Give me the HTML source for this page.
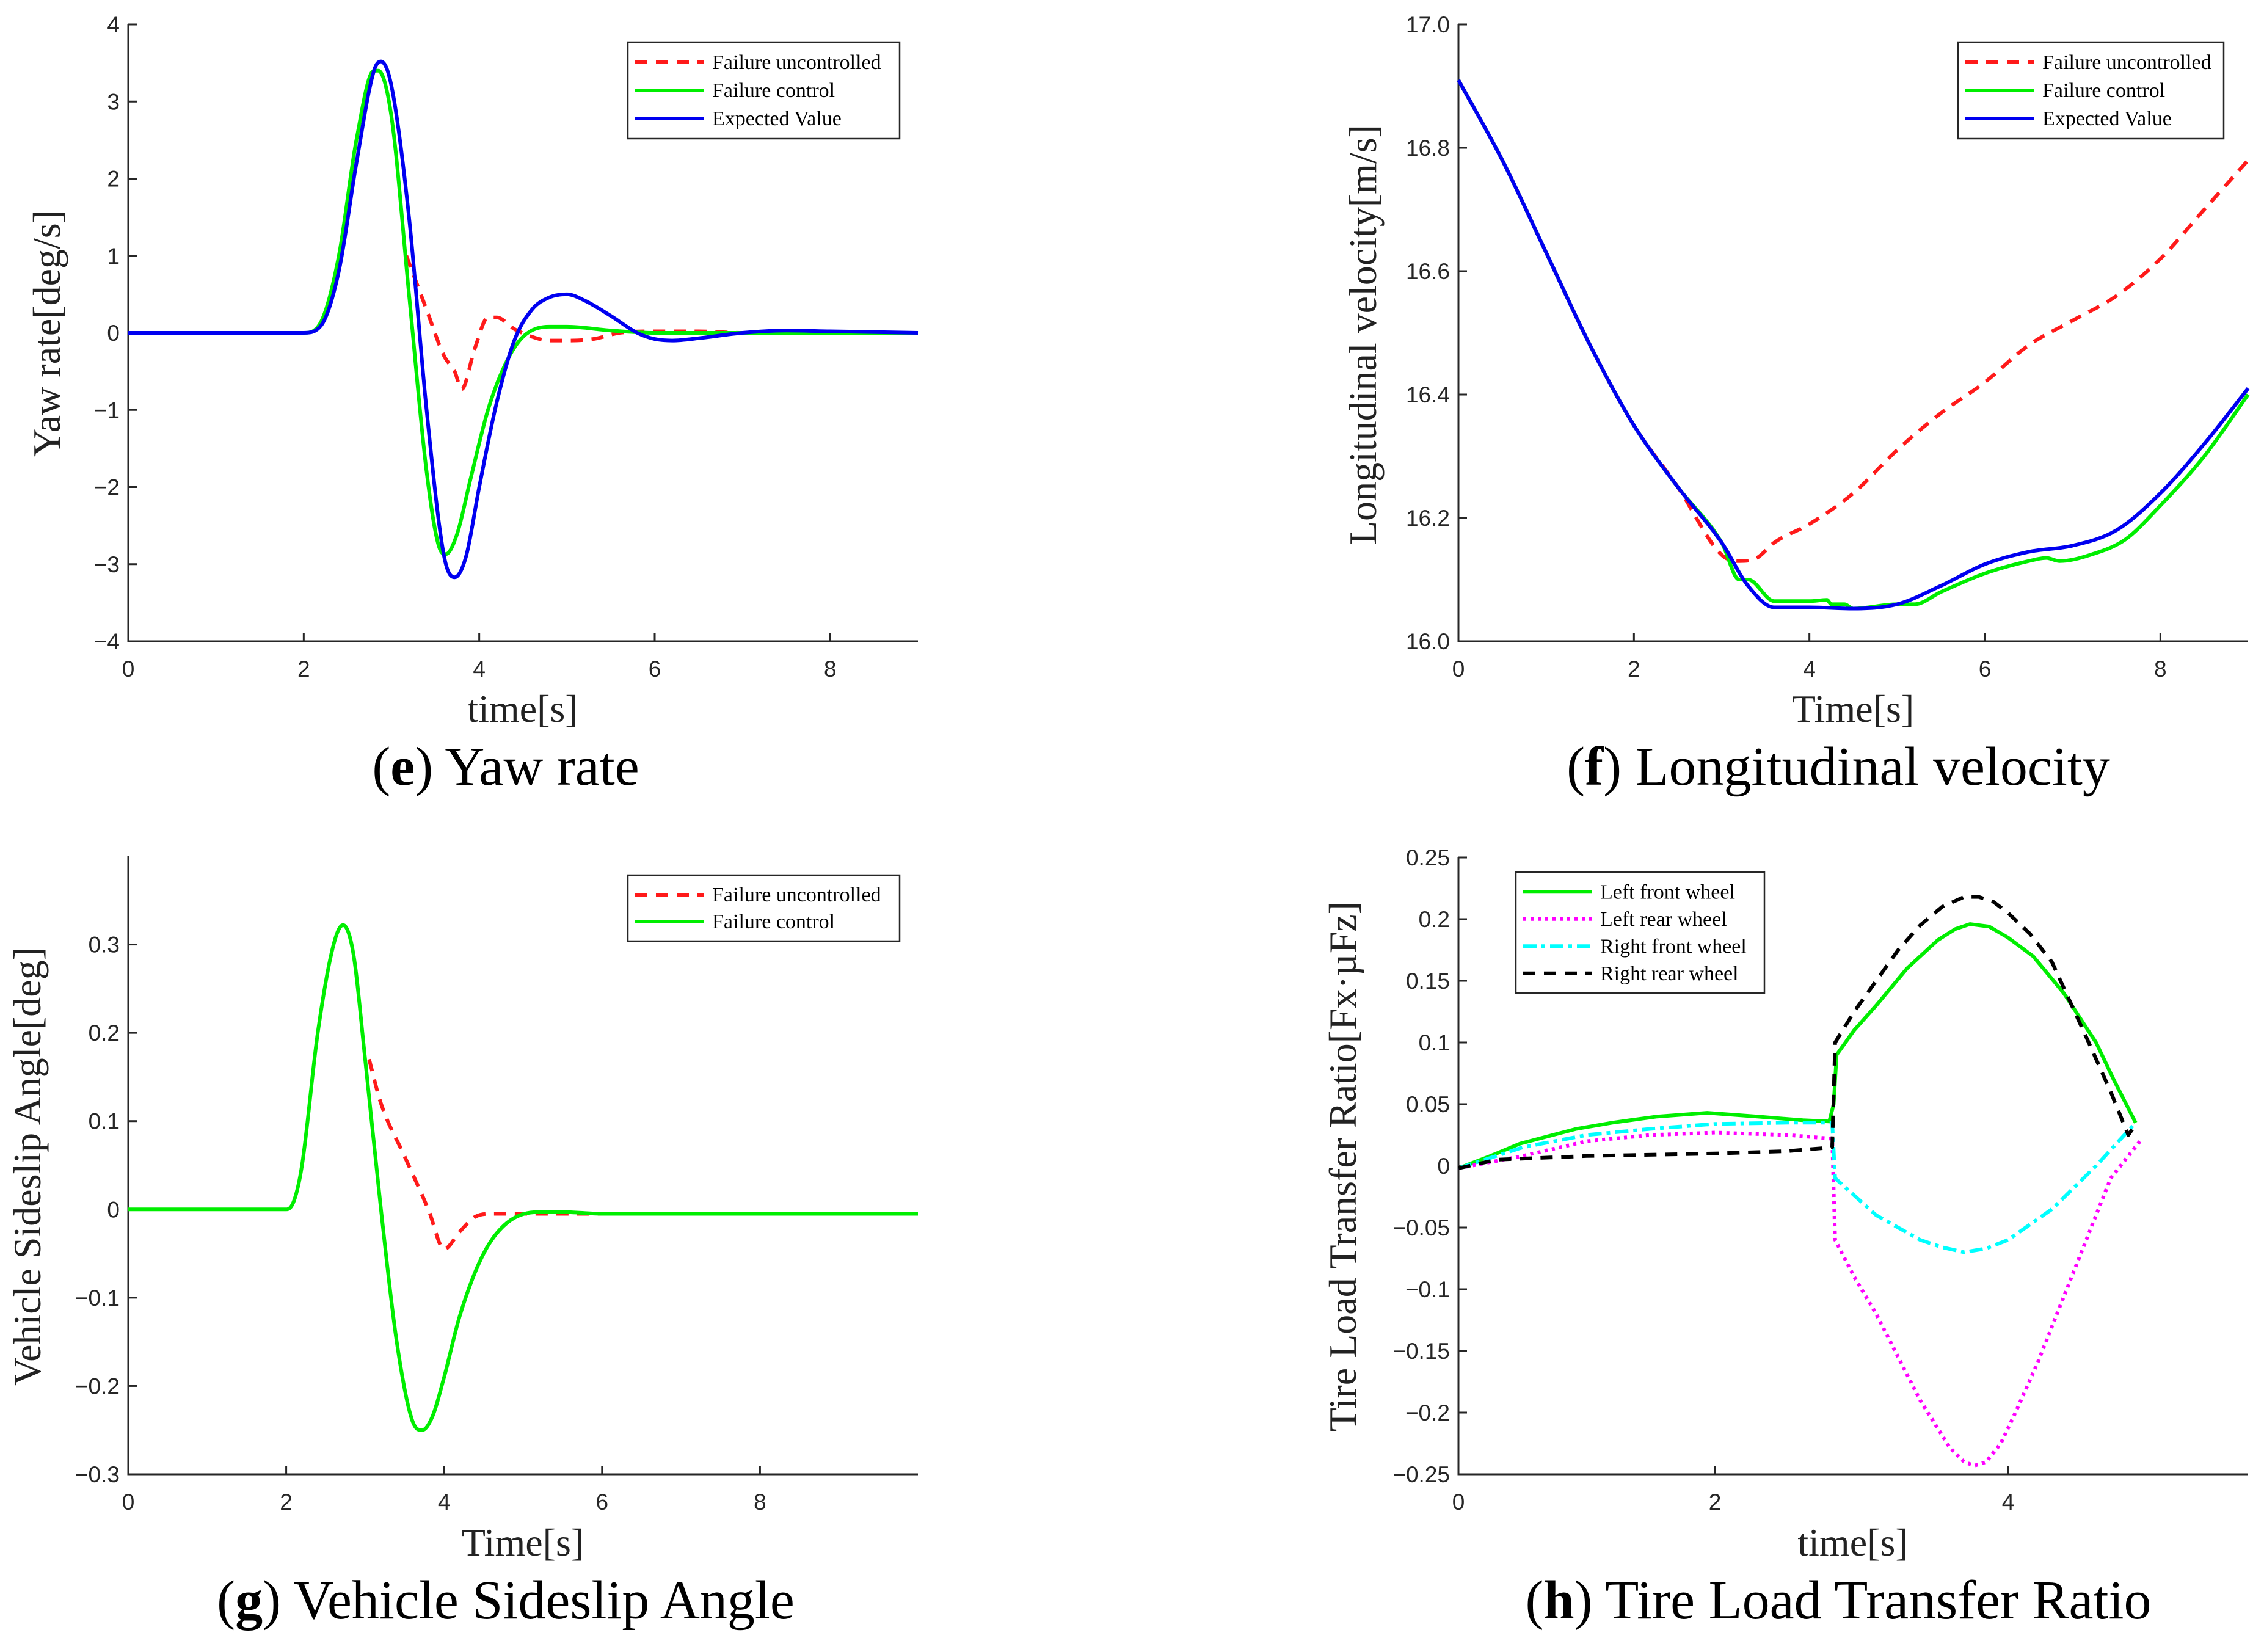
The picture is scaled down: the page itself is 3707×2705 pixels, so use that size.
<!DOCTYPE html>
<html><head><meta charset="utf-8">
<style>
html,body{margin:0;padding:0;background:#fff;}
svg{display:block;}
text{font-family:"Liberation Sans",sans-serif;}
.serif{font-family:"Liberation Serif",serif;}
</style></head>
<body>
<svg id="fig" width="3707" height="2705" viewBox="0 0 3707 2705" xmlns="http://www.w3.org/2000/svg"></svg>
<script>
// ---- chart e: yaw rate ----
const eBlueX=[0,2.0,2.2,2.4,2.6,2.8,2.88,3.0,3.2,3.4,3.6,3.72,3.85,4.0,4.2,4.4,4.6,4.8,5.0,5.2,5.5,5.8,6.0,6.2,6.5,7.0,7.5,8,9];
const eBlueY=[0,0,0.1,0.8,2.2,3.4,3.52,3.2,1.5,-1.0,-2.9,-3.17,-2.9,-2.0,-0.9,-0.1,0.3,0.46,0.5,0.42,0.22,0.0,-0.08,-0.1,-0.07,0.0,0.03,0.02,0];
const eGreenX=[0,2.0,2.2,2.4,2.6,2.8,2.85,3.0,3.2,3.4,3.55,3.62,3.75,3.9,4.1,4.3,4.5,4.8,5.0,5.5,6.0,9];
const eGreenY=[0,0,0.15,1.0,2.5,3.4,3.4,2.8,0.5,-1.8,-2.8,-2.87,-2.6,-1.9,-1.0,-0.4,-0.05,0.08,0.08,0.03,0.0,0];
const eRedX=[3.17,3.4,3.6,3.72,3.8,3.95,4.1,4.2,4.4,4.6,4.8,5.0,5.3,5.6,6,6.5,7,9];
const eRedY=[1.0,0.3,-0.3,-0.5,-0.73,-0.2,0.2,0.2,0.05,-0.05,-0.1,-0.1,-0.08,0.0,0.02,0.02,0.0,0];
const eXTicks=[0,2,4,6,8];
const eYTicks=[-4,-3,-2,-1,0,1,2,3,4];
const eYTickLabels=["\u22124","\u22123","\u22122","\u22121","0","1","2","3","4"];
// ---- chart f: longitudinal velocity ----
const fBlueX=[0,0.5,1,1.5,2,2.5,3,3.3,3.6,4,4.5,5,5.5,6,6.5,7,7.5,8,8.5,9];
const fBlueY=[16.91,16.78,16.63,16.48,16.35,16.25,16.16,16.09,16.055,16.055,16.053,16.06,16.09,16.125,16.145,16.155,16.18,16.24,16.32,16.41];
const fGreenX=[0,0.5,1,1.5,2,2.5,3,3.2,3.3,3.6,4.0,4.2,4.25,4.4,4.5,5,5.2,5.5,6,6.5,6.7,6.85,7.2,7.6,8,8.5,9];
const fGreenY=[16.91,16.78,16.63,16.48,16.35,16.25,16.16,16.10,16.10,16.065,16.065,16.067,16.06,16.06,16.053,16.06,16.06,16.08,16.11,16.13,16.135,16.13,16.14,16.165,16.22,16.3,16.40];
const fRedX=[0,0.5,1,1.5,2,2.5,3,3.2,3.4,3.6,4,4.5,5,5.5,6,6.5,7,7.5,8,8.5,9];
const fRedY=[16.91,16.78,16.63,16.48,16.35,16.25,16.14,16.13,16.135,16.16,16.19,16.24,16.31,16.37,16.42,16.48,16.52,16.56,16.62,16.70,16.78];
const fXTicks=[0,2,4,6,8];
const fYTicks=[16.0,16.2,16.4,16.6,16.8,17.0];
const fYTickLabels=["16.0","16.2","16.4","16.6","16.8","17.0"];
// ---- chart g: sideslip ----
const gGreenX=[0,2.0,2.1,2.2,2.4,2.6,2.72,2.85,3.0,3.2,3.4,3.6,3.72,3.85,4.0,4.2,4.5,4.8,5.2,5.5,6,10];
const gGreenY=[0,0,0.01,0.05,0.2,0.3,0.322,0.29,0.17,0.0,-0.15,-0.24,-0.25,-0.235,-0.19,-0.12,-0.05,-0.015,-0.003,-0.003,-0.005,-0.005];
const gRedX=[3.05,3.2,3.5,3.8,4.0,4.2,4.4,4.6,5,6,6.6];
const gRedY=[0.17,0.12,0.06,0.0,-0.045,-0.025,-0.008,-0.005,-0.005,-0.005,-0.005];
const gXTicks=[0,2,4,6,8];
const gYTicks=[-0.3,-0.2,-0.1,0,0.1,0.2,0.3];
const gYTickLabels=["\u22120.3","\u22120.2","\u22120.1","0","0.1","0.2","0.3"];
// ---- chart h: tire load transfer ----
const hLFX=[0,0.25,0.48,0.7,0.92,1.2,1.55,1.94,2.29,2.6,2.78,2.81,2.83,2.95,3.10,3.31,3.52,3.64,3.74,3.87,4.0,4.17,4.38,4.60,4.72,4.87];
const hLFY=[-0.002,0.008,0.018,0.024,0.03,0.035,0.04,0.043,0.04,0.037,0.036,0.05,0.09,0.11,0.13,0.16,0.183,0.192,0.196,0.194,0.185,0.17,0.14,0.1,0.07,0.035];
const hLRX=[0,0.5,1.0,1.5,2.0,2.5,2.8,2.82,2.95,3.1,3.25,3.4,3.6,3.7,3.77,3.85,3.95,4.05,4.2,4.35,4.5,4.7,4.9];
const hLRY=[-0.002,0.008,0.02,0.025,0.027,0.025,0.022,-0.06,-0.09,-0.12,-0.155,-0.19,-0.228,-0.24,-0.243,-0.24,-0.225,-0.2,-0.16,-0.115,-0.07,-0.01,0.02];
const hRFX=[0,0.5,1,1.5,2,2.5,2.8,2.82,3.1,3.4,3.55,3.7,3.85,4.0,4.3,4.6,4.87];
const hRFY=[-0.002,0.015,0.025,0.03,0.034,0.035,0.035,-0.01,-0.04,-0.06,-0.066,-0.07,-0.067,-0.06,-0.035,0.0,0.035];
const hRRX=[0,0.3,1,2,2.5,2.8,2.82,2.95,3.1,3.25,3.4,3.55,3.7,3.8,3.9,4.0,4.15,4.3,4.55,4.7,4.82,4.85];
const hRRY=[-0.002,0.005,0.008,0.01,0.012,0.015,0.1,0.125,0.15,0.175,0.195,0.21,0.218,0.218,0.214,0.205,0.188,0.165,0.1,0.06,0.025,0.03];
const hXTicks=[0,2,4];
const hYTicks=[-0.25,-0.2,-0.15,-0.1,-0.05,0,0.05,0.1,0.15,0.2,0.25];
const hYTickLabels=["\u22120.25","\u22120.2","\u22120.15","\u22120.1","\u22120.05","0","0.05","0.1","0.15","0.2","0.25"];

const NS="http://www.w3.org/2000/svg";
const svg=document.getElementById('fig');
function mk(tag,attrs,parent){const e=document.createElementNS(NS,tag);for(const k in attrs)e.setAttribute(k,attrs[k]);(parent||svg).appendChild(e);return e;}
function linear(d0,d1,r0,r1){return v=>r0+(v-d0)/(d1-d0)*(r1-r0);}

function axes(g,L,R,T,B,xs,ys,xt,yt,ytl){
  const ax=mk('path',{d:`M${L},${T} L${L},${B} L${R},${B}`,fill:'none',stroke:'#262626','stroke-width':3},g);
  
  
  xt.forEach(v=>{
    const x=xs(v);
    const t=mk('line',{x1:x,x2:x,y1:B,y2:B-14,stroke:'#262626','stroke-width':3},g);
    
    
    const l=mk('text',{x:x,y:B+58,'font-size':37,'text-anchor':'middle',fill:'#262626'},g);
    l.textContent=String(v);
    
    
  });
  yt.forEach((v,i)=>{
    const y=ys(v);
    const t=mk('line',{x1:L,x2:L+14,y1:y,y2:y,stroke:'#262626','stroke-width':3},g);
    
    
    const l=mk('text',{x:L-14,y:y+13,'font-size':37,'text-anchor':'end',fill:'#262626'},g);
    l.textContent=ytl[i];
    
    
  });
}
function smoothPath(px,py){
  const n=px.length;if(n<3)return px.map((x,i)=>(i?'L':'M')+x+','+py[i]).join(' ');
  const d=[],m=new Array(n);
  for(let i=0;i<n-1;i++){const h=px[i+1]-px[i];d.push(h===0?0:(py[i+1]-py[i])/h);}
  m[0]=d[0];m[n-1]=d[n-2];
  for(let i=1;i<n-1;i++){m[i]=(d[i-1]*d[i]<=0)?0:(d[i-1]+d[i])/2;}
  for(let i=0;i<n-1;i++){if(d[i]===0){m[i]=0;m[i+1]=0;continue;}
    const a=m[i]/d[i],b=m[i+1]/d[i],s=a*a+b*b;if(s>9){const t=3/Math.sqrt(s);m[i]=t*a*d[i];m[i+1]=t*b*d[i];}}
  let p='M'+px[0].toFixed(1)+','+py[0].toFixed(1);
  for(let i=0;i<n-1;i++){const h=(px[i+1]-px[i])/3;
    p+=` C${(px[i]+h).toFixed(1)},${(py[i]+m[i]*h).toFixed(1)} ${(px[i+1]-h).toFixed(1)},${(py[i+1]-m[i+1]*h).toFixed(1)} ${px[i+1].toFixed(1)},${py[i+1].toFixed(1)}`;}
  return p;
}
function line(g,X,Y,xs,ys,color,dash,name,smooth){
  const px=X.map(xs),py=Y.map(ys);
  const d=smooth===false?px.map((x,i)=>(i?'L':'M')+x.toFixed(1)+','+py[i].toFixed(1)).join(' '):smoothPath(px,py);
  const p=mk('path',{d:d,fill:'none',stroke:color,'stroke-width':6,'stroke-linejoin':'round'},g);
  if(dash)p.setAttribute('stroke-dasharray',dash);
  
  
}
function legend(g,x,y,w,h,entries){
  const b=mk('rect',{x:x,y:y,width:w,height:h,fill:'#fff',stroke:'#262626','stroke-width':2.5},g);
  
  
  const step=(h-20)/entries.length;
  entries.forEach((e,i)=>{
    const cy=y+10+step*(i+0.5);
    const s=mk('line',{x1:x+12,x2:x+125,y1:cy,y2:cy,stroke:e[1],'stroke-width':6},g);
    if(e[2])s.setAttribute('stroke-dasharray',e[2]);
    
    
    const t=mk('text',{x:x+138,y:cy+11,'font-size':34,fill:'#000',class:'serif'},g);
    t.textContent=e[0];
    
    
  });
}
function label(g,txt,x,y,size,rot,name){
  const t=mk('text',{x:x,y:y,'font-size':size,'text-anchor':'middle',fill:'#222',class:'serif'},g);
  if(rot)t.setAttribute('transform',`rotate(-90 ${x} ${y})`);
  t.textContent=txt;
  
  
}
function caption(g,letter,rest,x,y,name){
  const t=mk('text',{x:x,y:y,'font-size':90,'text-anchor':'middle',fill:'#000',class:'serif'},g);
  t.innerHTML='(<tspan font-weight="bold">'+letter+'</tspan>) '+rest;
  
  
}
const RED='#ff1a1a',GREEN='#00ee00',BLUE='#0000f0',DASH='20 14';

// chart e
{const g=mk('g',{});
const L=210,R=1503,T=40,B=1050;const xs=linear(0,9,L,R),ys=linear(-4,4,B,T);
axes(g,L,R,T,B,xs,ys,eXTicks,eYTicks,eYTickLabels);
line(g,eRedX,eRedY,xs,ys,RED,DASH,'failure-uncontrolled-line');
line(g,eGreenX,eGreenY,xs,ys,GREEN,null,'failure-control-line');
line(g,eBlueX,eBlueY,xs,ys,BLUE,null,'expected-value-line');
legend(g,1028,69,445,158,[['Failure uncontrolled',RED,DASH],['Failure control',GREEN],['Expected Value',BLUE]]);
label(g,'time[s]',856,1182,64,false,'x-axis-title');
label(g,'Yaw rate[deg/s]',98,546,64,true,'y-axis-title');
caption(g,'e','Yaw rate',828,1285,'chart-caption');}

// chart f
{const g=mk('g',{});
const L=2388,R=3681,T=40,B=1050;const xs=linear(0,9,L,R),ys=linear(16,17,B,T);
axes(g,L,R,T,B,xs,ys,fXTicks,fYTicks,fYTickLabels);
line(g,fRedX,fRedY,xs,ys,RED,DASH,'failure-uncontrolled-line');
line(g,fGreenX,fGreenY,xs,ys,GREEN,null,'failure-control-line');
line(g,fBlueX,fBlueY,xs,ys,BLUE,null,'expected-value-line');
legend(g,3206,69,435,158,[['Failure uncontrolled',RED,DASH],['Failure control',GREEN],['Expected Value',BLUE]]);
label(g,'Time[s]',3034,1182,64,false,'x-axis-title');
label(g,'Longitudinal velocity[m/s]',2253,548,64,true,'y-axis-title');
caption(g,'f','Longitudinal velocity',3010,1285,'chart-caption');}

// chart g
{const g=mk('g',{});
const L=210,R=1503,T=1402,B=2414;const xs=linear(0,10,L,R),ys=linear(-0.3,0.4,B,T);
axes(g,L,R,T,B,xs,ys,gXTicks,gYTicks,gYTickLabels);
line(g,gRedX,gRedY,xs,ys,RED,DASH,'failure-uncontrolled-line');
line(g,gGreenX,gGreenY,xs,ys,GREEN,null,'failure-control-line');
legend(g,1028,1433,445,108,[['Failure uncontrolled',RED,DASH],['Failure control',GREEN]]);
label(g,'Time[s]',856,2547,64,false,'x-axis-title');
label(g,'Vehicle Sideslip Angle[deg]',66,1910,64,true,'y-axis-title');
caption(g,'g','Vehicle Sideslip Angle',828,2650,'chart-caption');}

// chart h
{const g=mk('g',{});
const L=2388,R=3681,T=1404,B=2414;
const xs=v=>v<=2?L+v*210:2808+(v-2)*240;const ys=linear(-0.25,0.25,B,T);
axes(g,L,R,T,B,xs,ys,hXTicks,hYTicks,hYTickLabels);
line(g,hLFX,hLFY,xs,ys,GREEN,null,'left-front-wheel-line',false);
line(g,hLRX,hLRY,xs,ys,'#ff00ff','5 7','left-rear-wheel-line',false);
line(g,hRFX,hRFY,xs,ys,'#00ffff','22 8 6 8','right-front-wheel-line',false);
line(g,hRRX,hRRY,xs,ys,'#000',DASH,'right-rear-wheel-line',false);
legend(g,2482,1428,407,198,[['Left front wheel',GREEN],['Left rear wheel','#ff00ff','5 7'],['Right front wheel','#00ffff','22 8 6 8'],['Right rear wheel','#000',DASH]]);
label(g,'time[s]',3034,2547,64,false,'x-axis-title');
label(g,'Tire Load Transfer Ratio[Fx\u00b7\u00b5Fz]',2220,1910,64,true,'y-axis-title');
caption(g,'h','Tire Load Transfer Ratio',3010,2650,'chart-caption');}
</script>
</body></html>
